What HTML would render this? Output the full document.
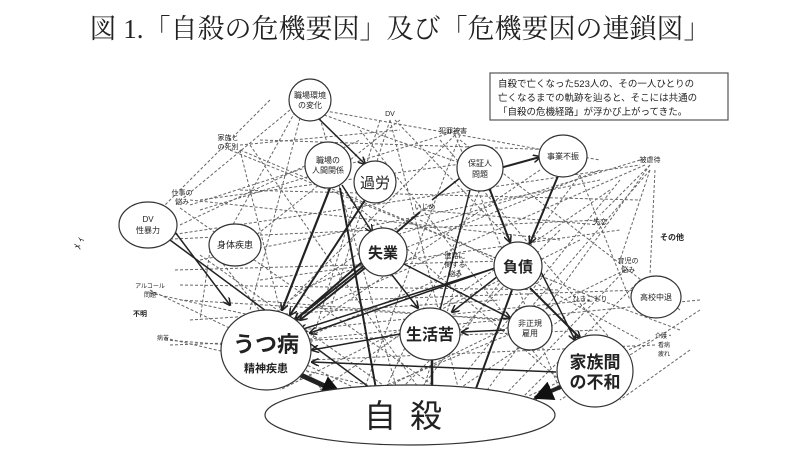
<!DOCTYPE html>
<html><head><meta charset="utf-8"><style>
body{margin:0;background:#fff;width:800px;height:450px;overflow:hidden}
svg text{font-family:"Liberation Sans","Noto Sans CJK JP",sans-serif;fill:#222}
</style></head><body>
<svg width="800" height="450" viewBox="0 0 800 450" xmlns="http://www.w3.org/2000/svg">
<defs>
<marker id="a" markerWidth="8" markerHeight="8" refX="7" refY="4" orient="auto" markerUnits="userSpaceOnUse"><path d="M0,0 L8,4 L0,8" fill="none" stroke="#222" stroke-width="1.5"/></marker>
<marker id="b" markerWidth="20" markerHeight="20" refX="18" refY="10" orient="auto" markerUnits="userSpaceOnUse"><path d="M0,0 L20,10 L0,20z" fill="#111"/></marker>
</defs>
<text x="400" y="38" text-anchor="middle" font-size="27" style="font-family:'Liberation Serif','Noto Serif CJK SC',serif">図 1.「自殺の危機要因」及び「危機要因の連鎖図」</text>
<rect x="490" y="73" width="238" height="47" fill="#fff" stroke="#555" stroke-width="1.2"/>
<text x="498" y="87" font-size="9.5">自殺で亡くなった523人の、その一人ひとりの</text>
<text x="498" y="101" font-size="9.5">亡くなるまでの軌跡を辿ると、そこには共通の</text>
<text x="498" y="115" font-size="9.5">「自殺の危機経路」が浮かび上がってきた。</text>
<text x="80" y="250" font-size="10" fill="#888" transform="rotate(-70 80 250)">ﾒ ｨ</text>

<g stroke="#666" stroke-width="1" stroke-dasharray="3,2" fill="none">
<path d="M290,110L175,205M295,112L230,230M300,118L250,310M320,118L400,400M250,145L420,390M240,150L500,260M240,150L280,310M190,200L560,240M190,205L330,160M180,208L440,390M390,120L330,310M390,120L460,395M395,120L520,250M455,135L270,320M455,135L560,390M460,135L360,400M650,165L600,215M650,170L620,260M655,170L650,275M650,170L520,320M645,165L290,320M640,160L380,240M650,165L480,400M150,290L380,400M150,293L250,315M165,338L410,395M165,340L230,345M590,300L300,330M590,300L450,395M655,345L310,360M650,340L520,400M460,270L300,340M460,270L420,400M625,270L360,400M625,270L500,400M220,260L330,400M210,250L200,320M200,255L390,390M150,240L600,220M150,238L640,165M600,225L420,210M430,205L290,300M320,110L600,160M310,110L480,170M540,170L320,320M580,175L630,300M580,175L420,390M480,190L380,400M350,200L560,380M700,300L300,340M700,310L560,400M520,330L350,400M500,320L250,300M180,300L520,320M200,200L490,160M130,240L270,100M200,260L600,180"/>
<path d="M230,150L600,300M240,145L400,130M260,140L560,150M380,120L300,380M400,120L250,240M440,140L620,350M460,140L680,310M200,210L460,130M175,270L540,260M180,285L560,290M190,320L500,300M170,345L600,330M620,180L460,380M610,190L320,390M640,280L520,400M680,330L600,300M690,350L620,400M360,130L540,360M420,220L640,340M350,300L640,290M240,190L640,200M180,225L360,140M260,280L620,230M300,290L600,170M560,230L400,390M580,240L280,390"/>
</g>

<g stroke="#222" stroke-width="1.5" fill="none">
<line x1="175" y1="232" x2="230" y2="305" marker-end="url(#a)"/>
<line x1="170" y1="240" x2="400" y2="410" marker-end="url(#a)"/>
<line x1="330" y1="188" x2="282" y2="310" stroke-width="2.2" marker-end="url(#a)"/>
<line x1="340" y1="188" x2="378" y2="400" stroke-width="2" marker-end="url(#a)"/>
<line x1="342" y1="185" x2="372" y2="232" marker-end="url(#a)"/>
<line x1="365" y1="200" x2="290" y2="315" stroke-width="2" marker-end="url(#a)"/>
<line x1="318" y1="118" x2="365" y2="164" marker-end="url(#a)" marker-start="url(#a)"/>
<line x1="420" y1="212" x2="295" y2="320" stroke-width="2" marker-end="url(#a)"/>
<line x1="365" y1="265" x2="295" y2="320" stroke-width="2" marker-end="url(#a)"/>
<line x1="392" y1="275" x2="418" y2="308" marker-end="url(#a)"/>
<line x1="400" y1="262" x2="510" y2="318" marker-end="url(#a)"/>
<line x1="495" y1="268" x2="310" y2="333" marker-end="url(#a)"/>
<line x1="400" y1="334" x2="312" y2="350" marker-end="url(#a)" marker-start="url(#a)"/>
<line x1="505" y1="330" x2="462" y2="332" marker-end="url(#a)"/>
<line x1="498" y1="276" x2="452" y2="312" marker-end="url(#a)" marker-start="url(#a)"/>
<line x1="512" y1="290" x2="470" y2="405" stroke-width="2" marker-end="url(#a)"/>
<line x1="530" y1="288" x2="580" y2="338" stroke-width="2" marker-end="url(#a)"/>
<line x1="540" y1="270" x2="575" y2="340" marker-end="url(#a)"/>
<line x1="556" y1="372" x2="312" y2="362" marker-end="url(#a)"/>
<line x1="490" y1="190" x2="510" y2="242" stroke-width="2" marker-end="url(#a)" marker-start="url(#a)"/>
<line x1="500" y1="168" x2="540" y2="157" stroke-width="2" marker-end="url(#a)" marker-start="url(#a)"/>
<line x1="558" y1="176" x2="530" y2="243" stroke-width="2" marker-end="url(#a)" marker-start="url(#a)"/>
<line x1="460" y1="178" x2="432" y2="200"/>
<line x1="470" y1="190" x2="440" y2="310" />
<line x1="400" y1="240" x2="300" y2="320" stroke-width="2" marker-end="url(#a)"/>
<line x1="432" y1="360" x2="432" y2="400" stroke-width="2.5" marker-end="url(#a)"/>
<line x1="505" y1="265" x2="300" y2="330" marker-end="url(#a)"/>
<line x1="290" y1="370" x2="340" y2="393" stroke-width="5" marker-end="url(#b)"/>
<line x1="565" y1="385" x2="535" y2="398" stroke-width="4" marker-end="url(#b)"/>
</g>

<g stroke="#333" stroke-width="1.2" fill="#fff">
<ellipse cx="410" cy="415" rx="145" ry="30"/>
<circle cx="310" cy="100" r="21"/>
<circle cx="328" cy="165" r="23"/>
<circle cx="375" cy="182" r="21"/>
<ellipse cx="148" cy="225" rx="29" ry="23"/>
<ellipse cx="235" cy="245" rx="26" ry="21"/>
<circle cx="383" cy="252" r="24"/>
<circle cx="480" cy="168" r="23"/>
<ellipse cx="563" cy="156" rx="24" ry="21"/>
<circle cx="518" cy="266" r="24"/>
<circle cx="530" cy="328" r="22"/>
<ellipse cx="430" cy="334" rx="30" ry="26"/>
<ellipse cx="656" cy="297" rx="25" ry="21"/>
<ellipse cx="266" cy="350" rx="45" ry="40"/>
<ellipse cx="595" cy="371" rx="38" ry="36"/>
</g>

<g text-anchor="middle" font-size="8">
<text x="310" y="98">職場環境</text><text x="310" y="108">の変化</text>
<text x="328" y="163">職場の</text><text x="328" y="173">人間関係</text>
<text x="375" y="188" font-size="15">過労</text>
<text x="148" y="222">DV</text><text x="148" y="233">性暴力</text>
<text x="235" y="248" font-size="9">身体疾患</text>
<text x="383" y="258" font-size="15" font-weight="bold">失業</text>
<text x="480" y="166">保証人</text><text x="480" y="177">問題</text>
<text x="563" y="159">事業不振</text>
<text x="518" y="272" font-size="15" font-weight="bold">負債</text>
<text x="530" y="326">非正規</text><text x="530" y="336">雇用</text>
<text x="430" y="340" font-size="16" font-weight="bold">生活苦</text>
<text x="656" y="300">高校中退</text>
<text x="266" y="352" font-size="22" font-weight="bold">うつ病</text>
<text x="266" y="372" font-size="11" font-weight="bold">精神疾患</text>
<text x="595" y="368" font-size="17" font-weight="bold">家族間</text>
<text x="595" y="388" font-size="17" font-weight="bold">の不和</text>
<text x="410" y="427" font-size="32" letter-spacing="14">自殺</text>
<text x="390" y="116" font-size="7">DV</text>
<text x="453" y="133" font-size="7">犯罪被害</text>
<text x="228" y="140" font-size="7">家族と</text><text x="228" y="149" font-size="7">の死別</text>
<text x="182" y="195" font-size="7">仕事の</text><text x="182" y="204" font-size="7">悩み</text>
<text x="425" y="209" font-size="7">いじめ</text>
<text x="600" y="224" font-size="7">失恋</text>
<text x="650" y="162" font-size="7">被虐待</text>
<text x="672" y="240" font-size="8" font-weight="bold">その他</text>
<text x="455" y="258" font-size="7">進路に</text><text x="455" y="267" font-size="7">関する</text><text x="455" y="276" font-size="7">悩み</text>
<text x="628" y="263" font-size="7">育児の</text><text x="628" y="272" font-size="7">悩み</text>
<text x="590" y="301" font-size="7">ひきこもり</text>
<text x="150" y="288" font-size="6">アルコール</text><text x="150" y="297" font-size="6">問題</text>
<text x="140" y="316" font-size="7" font-weight="bold">不明</text>
<text x="163" y="340" font-size="6">病苦</text>
<text x="664" y="338" font-size="6">介護・</text><text x="664" y="347" font-size="6">看病</text><text x="664" y="356" font-size="6">疲れ</text>
</g>
</svg>
</body></html>
